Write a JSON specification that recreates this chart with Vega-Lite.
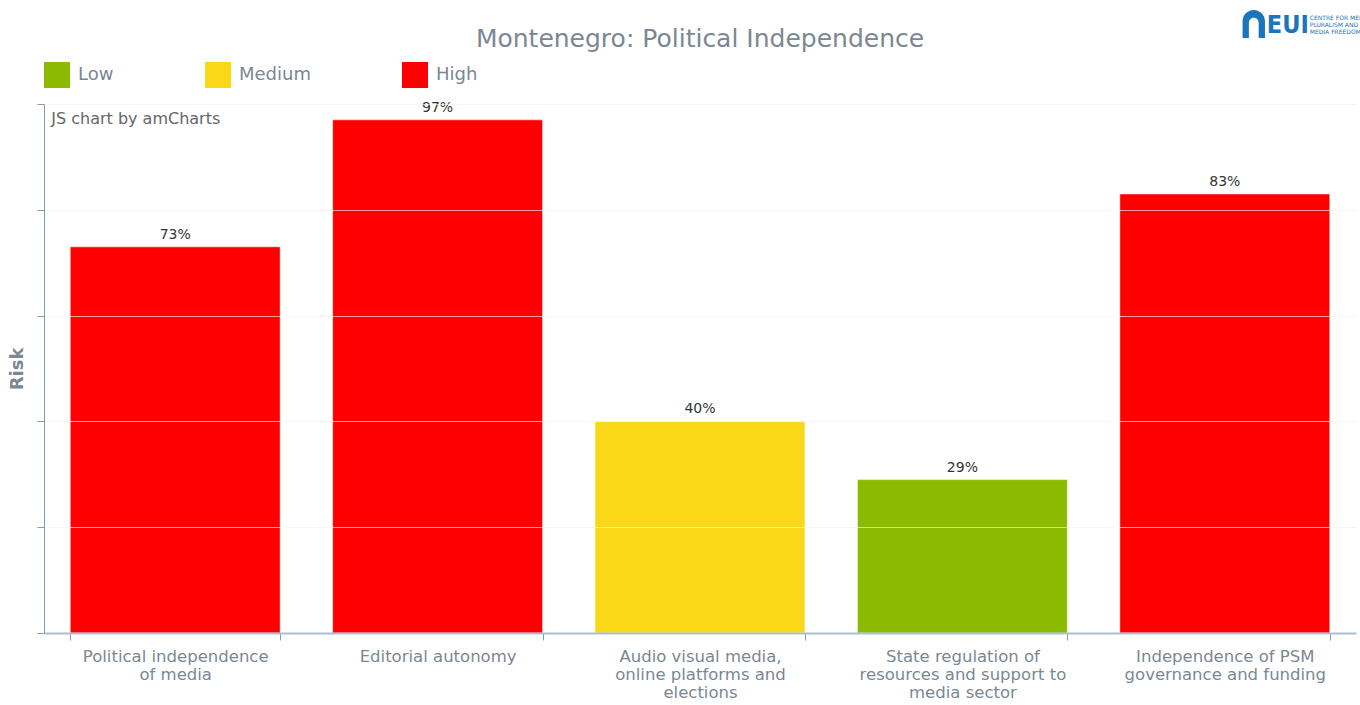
{
  "$schema": "https://vega.github.io/schema/vega-lite/v6.json",
  "autosize": {"type": "none"},
  "width": 1312,
  "height": 529,
  "padding": {"left": 44, "top": 104, "right": 4, "bottom": 72},
  "background": "#ffffff",
  "title": {
    "text": "Montenegro: Political Independence",
    "anchor": "middle",
    "fontSize": 25,
    "fontWeight": "normal",
    "color": "#7b8793",
    "offset": 9,
    "dy": 51
  },
  "config": {
    "font": "DejaVu Sans",
    "view": {"stroke": null}
  },
  "datasets": {
    "risk": [
      {"area": "Political independence of media", "risk": 0.73, "level": "High"},
      {"area": "Editorial autonomy", "risk": 0.97, "level": "High"},
      {"area": "Audio visual media, online platforms and elections", "risk": 0.40, "level": "Medium"},
      {"area": "State regulation of resources and support to media sector", "risk": 0.29, "level": "Low"},
      {"area": "Independence of PSM governance and funding", "risk": 0.83, "level": "High"}
    ],
    "note": [{"text": "JS chart by amCharts"}],
    "logo": [{"name": "EUI", "sub": "CENTRE FOR MEDIA|PLURALISM AND|MEDIA FREEDOM"}]
  },
  "layer": [
    {
      "data": {"name": "risk"},
      "mark": {"type": "bar", "stroke": "#ffffff", "strokeOpacity": 0.5, "strokeWidth": 1},
      "encoding": {
        "x": {
          "field": "area",
          "type": "nominal",
          "sort": null,
          "scale": {"paddingInner": 0.2, "paddingOuter": 0.1},
          "axis": {
            "title": null,
            "labelAngle": 0,
            "labelFontSize": 16.5,
            "labelColor": "#7b8793",
            "labelLineHeight": 18,
            "labelBaseline": "top",
            "labelPadding": 8,
            "labelLimit": 300,
            "tickSize": 7,
            "tickColor": "#7f9fb5",
            "tickBand": "extent",
            "domainColor": "#a9c0d0",
            "domainWidth": 2,
            "grid": false,
            "zindex": 1,
            "labelExpr": "{'Political independence of media': ['Political independence', 'of media'], 'Editorial autonomy': ['Editorial autonomy'], 'Audio visual media, online platforms and elections': ['Audio visual media,', 'online platforms and', 'elections'], 'State regulation of resources and support to media sector': ['State regulation of', 'resources and support to', 'media sector'], 'Independence of PSM governance and funding': ['Independence of PSM', 'governance and funding']}[datum.label]"
          }
        },
        "y": {
          "field": "risk",
          "type": "quantitative",
          "scale": {"domain": [0, 1], "nice": false},
          "axis": {
            "title": "Risk",
            "titleFontSize": 18,
            "titleFontWeight": "bold",
            "titleColor": "#7b8793",
            "titlePadding": 10,
            "values": [0, 0.2, 0.4, 0.6, 0.8, 1],
            "labels": false,
            "tickSize": 7,
            "tickColor": "#8a9aa6",
            "domainColor": "#8a9aa6",
            "grid": true,
            "gridColor": "#f2f2f2",
            "gridOpacity": 0.65,
            "zindex": 1
          }
        },
        "color": {
          "field": "level",
          "type": "nominal",
          "scale": {"domain": ["Low", "Medium", "High"], "range": ["#8cba00", "#fad817", "#ff0000"]},
          "legend": {
            "title": null,
            "orient": "none",
            "legendX": 0,
            "legendY": -42,
            "direction": "horizontal",
            "symbolType": "square",
            "symbolSize": 676,
            "symbolStrokeWidth": 0,
            "symbolOpacity": 1,
            "labelFontSize": 18,
            "labelColor": "#7b8793",
            "labelOffset": 8,
            "columnPadding": 91
          }
        }
      }
    },
    {
      "data": {"name": "risk"},
      "mark": {"type": "text", "dy": -12, "fontSize": 14, "color": "#333333"},
      "encoding": {
        "x": {"field": "area", "type": "nominal", "sort": null},
        "y": {"field": "risk", "type": "quantitative"},
        "text": {"field": "risk", "type": "quantitative", "format": ".0%"}
      }
    },
    {
      "data": {"name": "note"},
      "mark": {"type": "text", "align": "left", "baseline": "middle", "dx": -19, "dy": 15, "fontSize": 16, "color": "#666666"},
      "encoding": {
        "x": {"datum": "Political independence of media", "bandPosition": 0},
        "y": {"datum": 1},
        "text": {"field": "text"}
      }
    },
    {
      "data": {"name": "logo"},
      "mark": {"type": "point", "filled": true, "color": "#1b75bb", "opacity": 1, "size": 784,
        "shape": "M -0.8 1 L -0.8 -0.2 A 0.8 0.8 0 0 1 0.8 -0.2 L 0.8 1 L 0.35 1 L 0.35 -0.1 A 0.35 0.35 0 0 0 -0.35 -0.1 L -0.35 1 Z"},
      "encoding": {
        "x": {"datum": "Independence of PSM governance and funding", "bandPosition": 0.638},
        "y": {"datum": 1.151}
      }
    },
    {
      "data": {"name": "logo"},
      "mark": {"type": "text", "align": "left", "baseline": "middle", "fontSize": 25, "fontWeight": "bold", "color": "#1b75bb", "dx": -63, "font": "DejaVu Sans Condensed, Liberation Sans"},
      "encoding": {
        "x": {"datum": "Independence of PSM governance and funding", "bandPosition": 1},
        "y": {"datum": 1.149},
        "text": {"field": "name"}
      }
    },
    {
      "data": {"name": "logo"},
      "mark": {"type": "text", "align": "left", "baseline": "top", "fontSize": 6, "lineHeight": 7, "lineBreak": "|", "color": "#1b75bb", "dx": -20},
      "encoding": {
        "x": {"datum": "Independence of PSM governance and funding", "bandPosition": 1},
        "y": {"datum": 1.168},
        "text": {"field": "sub"}
      }
    }
  ]
}
